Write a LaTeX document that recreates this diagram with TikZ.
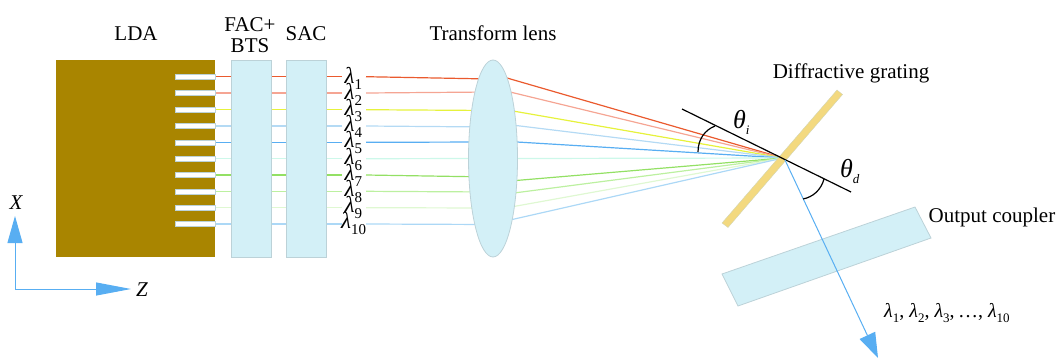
\documentclass[tikz,border=0pt]{standalone}
\usepackage{fontspec}
\setmainfont{Liberation Serif}
\usetikzlibrary{arrows.meta,calc}
\definecolor{boxfill}{HTML}{D3F0F7}
\definecolor{boxline}{HTML}{BCD2D8}
\definecolor{ldafill}{HTML}{A98500}
\definecolor{gratefill}{HTML}{F3D97F}
\definecolor{axisblue}{HTML}{58AEF2}
\definecolor{rA}{HTML}{EA5A2E}
\definecolor{rB}{HTML}{F5A593}
\definecolor{rC}{HTML}{E6F23C}
\definecolor{rD}{HTML}{B4DAF4}
\definecolor{rE}{HTML}{58AEF2}
\definecolor{rF}{HTML}{CDF8EA}
\definecolor{rG}{HTML}{93E064}
\definecolor{rH}{HTML}{BCF0A0}
\definecolor{rI}{HTML}{DFF8D2}
\definecolor{rJ}{HTML}{ACD8F6}
\newcommand{\lamsub}[1]{{\itshape λ}\raisebox{-0.3em}{\fontsize{15}{15}\selectfont #1}}
\newcommand{\lamsm}[1]{{\itshape λ}\raisebox{-0.25em}{\fontsize{13}{13}\selectfont #1}}
\tikzset{
  x=1pt,y=-1pt,
  lbl/.style={inner sep=0pt,font=\fontsize{21}{22}\selectfont,align=center},
  lamlbl/.style={inner sep=0pt,font=\fontsize{23}{23}\selectfont,anchor=base west},
  optic/.style={fill=boxfill,draw=boxline,line width=0.8pt},
  rayline/.style={line width=1.2pt},
  slot/.style={fill=white,draw=boxline,line width=0.6pt},
  axisline/.style={draw=axisblue,line width=1pt},
  anglearc/.style={draw=black,line width=1.2pt},
}
\begin{document}
\begin{tikzpicture}
\useasboundingbox (0,0) rectangle (1056,359);
\coordinate (G) at (783,158);
% rays, drawn first so the optics cover them
\foreach \c/\y/\a/\b/\ry in {
  rA/76.7/79/507/78, rB/93/92/510/92, rC/109.7/110.5/513/111, rD/126/127/516/125.5,
  rE/142.3/142/517/142, rF/158.7/158.5/517/158.5, rG/175/177/516/180.5,
  rH/191.3/192/514/193, rI/207.7/208/511/207, rJ/224/224.5/510/220}{
  \coordinate (s) at (215,\y);
  \coordinate (l) at (342,\y);
  \coordinate (r) at (366,\y);
  \coordinate (li) at (490,\a);
  \coordinate (lo) at (\b,\ry);
  \draw[rayline,\c] (s) -- (l);
  \draw[rayline,\c] (r) -- (li);
  \draw[rayline,\c] (lo) -- (G);
}
% laser array
\path[fill=ldafill] (56,60) rectangle (215,257);
\foreach \y in {76.7,93,109.7,126,142.3,158.7,175,191.3,207.7,224}
  \path[slot] (175,\y-2.5) rectangle (215,\y+2.5);
% collimators and lens
\path[optic] (231,60) rectangle (271,257);
\path[optic] (286,60) rectangle (326,257);
\path[optic] (493,158.5) ellipse [x radius=24.5,y radius=98.5];
% grating and coupler
\path[fill=gratefill,draw=boxline!60!gratefill,line width=0.4pt] (837,90) -- (842.5,94.5) -- (728,227.5) -- (722,223) -- cycle;
\path[optic] (915,207) -- (931,238) -- (738,306) -- (722,274) -- cycle;
% normal and output beam
\coordinate (N1) at (682,109);
\coordinate (N2) at (851,192);
\coordinate (Tip) at (878,358);
\coordinate (OutStart) at (785,160);
\draw[black,line width=1.2pt] (N1) -- (N2);
\draw[axisline,-{Triangle[length=25,width=17]}] (OutStart) -- (Tip);
% angle arcs
\draw[anglearc] (698,152) .. controls (698,139) and (705,130) .. (715,126);
\draw[anglearc] (824,179) .. controls (821,190) and (813,197) .. (803,199);
% axes
\coordinate (O) at (15,289);
\coordinate (XT) at (15,216);
\coordinate (ZT) at (131,289);
\draw[axisline,-{Triangle[length=27,width=15]}] (O) -- (XT);
\draw[axisline,-{Triangle[length=35,width=13]}] (O) -- (ZT);
% texts
\node[lbl] (lda) at (136,34) {LDA};
\node[lbl] (fac) at (250,35) {FAC+\\[-1pt]BTS};
\node[lbl] (sac) at (306,34) {SAC};
\node[lbl] (tl) at (493,33) {Transform lens};
\node[lbl] (dg) at (851,73) {Diffractive grating};
\node[lbl] (oc) at (992,217) {Output coupler};
\node[lbl] (xl) at (16,203) {\itshape X};
\node[lbl] (zl) at (142,290) {\itshape Z};
\node[lamlbl,font=\fontsize{26}{26}\selectfont] (ti) at (733,128) {{\itshape θ}\raisebox{-0.25em}{\fontsize{13}{13}\selectfont\itshape i}};
\node[lamlbl,font=\fontsize{26}{26}\selectfont] (td) at (840,177) {{\itshape θ}\raisebox{-0.25em}{\fontsize{13}{13}\selectfont\itshape d}};
\foreach \n/\y in {1/83,2/99,3/115,4/131,5/147,6/164,7/180,8/196,9/212}
  \node[lamlbl] (lam\n) at (344.5,\y) {\lamsub{\n}};
\node[lamlbl] (lam10) at (341,228) {\lamsub{10}};
\node[lamlbl,font=\fontsize{20}{20}\selectfont] (all) at (884,317) {\lamsm{1}, \lamsm{2}, \lamsm{3},\,…, \lamsm{10}};
\end{tikzpicture}
\end{document}
